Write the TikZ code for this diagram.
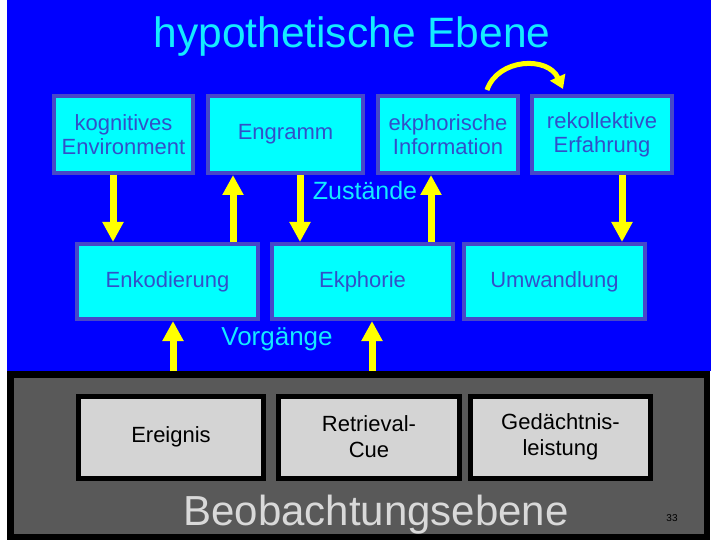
\documentclass[tikz,border=0pt]{standalone}
\usepackage{fontspec}
\setmainfont{Liberation Sans}
\usetikzlibrary{arrows.meta, positioning, calc}
\definecolor{slideblue}{RGB}{0,0,255}
\definecolor{boxcyan}{RGB}{0,255,255}
\definecolor{boxline}{RGB}{72,72,200}
\definecolor{boxtext}{RGB}{50,80,200}
\definecolor{titlecyan}{RGB}{20,235,255}
\definecolor{obsgray}{RGB}{89,89,89}
\definecolor{obsbox}{RGB}{212,212,212}
\definecolor{obstext}{RGB}{217,217,217}
\definecolor{arrowyellow}{RGB}{255,255,0}

\begin{document}
\begin{tikzpicture}[x=1pt, y=-1pt,
  hbox/.style={draw=boxline, line width=4pt, fill=boxcyan, text=boxtext, align=center,
    inner sep=0pt, font=\fontsize{22}{24}\selectfont},
  obox/.style={draw=black, line width=5pt, fill=obsbox, align=center, inner sep=0pt,
    minimum height=82pt, font=\fontsize{22}{26}\selectfont},
  yarrow/.style={arrowyellow, line width=7pt, -{Triangle[length=20pt, width=20pt]}},
  lbl/.style={text=titlecyan, inner sep=0pt, anchor=base}]
  \useasboundingbox (0,0) rectangle (720,540);
  \fill[white] (0,0) rectangle (720,540);
  \fill[slideblue] (7,0) rectangle (711,371);
  \node[draw=black, line width=6.5pt, fill=obsgray, minimum width=696.5pt, minimum height=162.5pt, inner sep=0pt] (obs) at (358.5,455.5) {};

  \node[lbl, font=\fontsize{42.5}{44}\selectfont] (title) at (352,48) {hypothetische Ebene};

  \node[hbox, minimum width=139pt, minimum height=77pt] (kog) at (123.5,134.5) {kognitives\\Environment};
  \node[hbox, minimum width=155pt, minimum height=77pt] (eng) at (285.5,134.5) {Engramm};
  \node[hbox, minimum width=140pt, minimum height=77pt] (ekinfo) at (448,134.5) {ekphorische\\Information};
  \node[hbox, minimum width=140pt, minimum height=77pt] (rek) at (602,134.5) {rekollektive\\Erfahrung};

  \node[lbl, font=\fontsize{25}{28}\selectfont] (zust) at (365,200) {Zustände};

  \node[hbox, minimum width=181pt, minimum height=75pt] (enk) at (167.5,281.5) {Enkodierung};
  \node[hbox, minimum width=181pt, minimum height=75pt] (ekph) at (362.5,281.5) {Ekphorie};
  \node[hbox, minimum width=181pt, minimum height=75pt] (umw) at (554.5,281.5) {Umwandlung};

  \node[lbl, font=\fontsize{26}{28}\selectfont] (vorg) at (277,345) {Vorgänge};

  \node[obox, minimum width=185pt] (ereig) at (171,437) {Ereignis};
  \node[obox, minimum width=181pt] (cue) at (369,437) {Retrieval-\\Cue};
  \node[obox, minimum width=180pt] (leist) at (560.5,437) {Gedächtnis-\\leistung};

  \node[text=obstext, inner sep=0pt, anchor=base, font=\fontsize{42}{44}\selectfont] (beob) at (376,525) {Beobachtungsebene};
  \node[inner sep=0pt, anchor=base, font=\fontsize{10}{12}\selectfont] (page) at (672,521) {33};

  \coordinate (c1) at (113,0);
  \coordinate (c2) at (233,0);
  \coordinate (c3) at (300,0);
  \coordinate (c4) at (431,0);
  \coordinate (c5) at (622,0);
  \coordinate (c6) at (173,0);
  \coordinate (c7) at (372,0);
  \draw[yarrow] (kog.south -| c1) -- (enk.north -| c1);
  \draw[yarrow] (enk.north -| c2) -- (eng.south -| c2);
  \draw[yarrow] (eng.south -| c3) -- (ekph.north -| c3);
  \draw[yarrow] (ekph.north -| c4) -- (ekinfo.south -| c4);
  \draw[yarrow] (rek.south -| c5) -- (umw.north -| c5);
  \draw[yarrow] (obs.north -| c6) -- (enk.south -| c6);
  \draw[yarrow] (obs.north -| c7) -- (ekph.south -| c7);

  \coordinate (s1) at (487,0);
  \coordinate (s2) at (563,0);
  \draw[arrowyellow, line width=5pt, -{Triangle[length=13pt, width=16pt]}]
    ($(ekinfo.north -| s1)+(0,-4)$) .. controls (498,58) and (548,56) .. ($(rek.north -| s2)+(0,-5)$);
\end{tikzpicture}
\end{document}
